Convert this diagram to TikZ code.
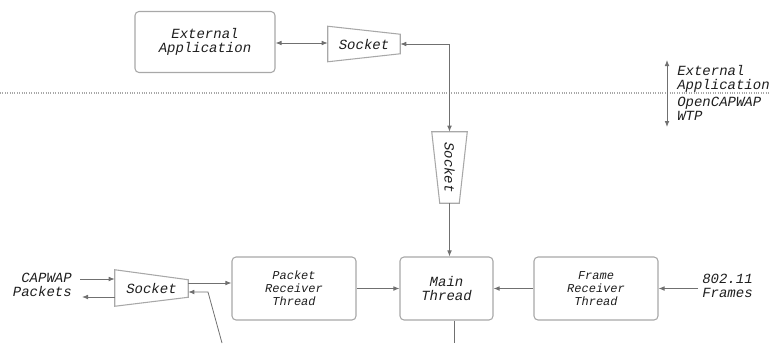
\documentclass[tikz,border=0pt]{standalone}
\usepackage{fontspec}
\setmonofont{Liberation Mono}
\usepackage{graphicx}
\usetikzlibrary{arrows.meta,calc}
\definecolor{boxgray}{HTML}{A8A8A8}
\definecolor{linegray}{HTML}{707070}
\definecolor{txtgray}{HTML}{1E1E1E}
\begin{document}
\begin{tikzpicture}[x=0.75pt,y=-0.75pt,
    thr/.style={draw=boxgray,line width=0.8pt,rounded corners=3pt,align=center,text=txtgray,
        font=\ttfamily\itshape\fontsize{9}{9.75}\selectfont},
    lbl/.style={text=txtgray,inner sep=0pt,font=\ttfamily\itshape\fontsize{10.5}{10.5}\selectfont},
    sock/.style={lbl,inner sep=0pt},
    conn/.style={draw=linegray,line width=0.6pt,-{Latex[length=4.5pt,width=3.5pt]}},
    biconn/.style={conn,{Latex[length=4.5pt,width=3.5pt]}-{Latex[length=4.5pt,width=3.5pt]}}]
    \tikzstyle{outline}=[draw=boxgray,line width=0.8pt]
    \useasboundingbox (0,0) rectangle (770,343);

    \node[thr,lbl,inner sep=0pt,draw=boxgray,minimum width=105pt,minimum height=45.75pt,align=center] (extapp) at (205,42) {External\\Application};
    \node[sock,minimum width=54pt,minimum height=26.25pt] (sockA) at (364,44) {Socket};
    \node[sock,minimum width=26.25pt,minimum height=53.25pt] (sockV) at (449.5,167.5) {\rotatebox{-90}{Socket}};
    \node[sock,minimum width=54.75pt,minimum height=27pt] (sockB) at (151.5,288) {Socket};

    \node[thr,minimum width=93pt,minimum height=47.25pt] (pkt) at (294,288.5) {Packet\\Receiver\\Thread};
    \node[thr,font=\ttfamily\itshape\fontsize{10.5}{10.5}\selectfont,minimum width=69.75pt,minimum height=47.25pt] (mainthr) at (446.5,288.5) {Main\\Thread};
    \node[thr,minimum width=93pt,minimum height=47.25pt] (frame) at (596,288.5) {Frame\\Receiver\\Thread};

    \node[lbl,align=left,anchor=west] (frames) at (702,286) {802.11\\Frames};
    \node[lbl,align=right,anchor=east] (capwap) at (72,285) {CAPWAP\\Packets};
    \node[lbl,align=left,anchor=west] (upper) at (677,79) {External\\Application};
    \node[lbl,align=left,anchor=west] (lower) at (677,109) {OpenCAPWAP\\WTP};

    \draw[outline] (sockA.north west) -- ([yshift=-6pt]sockA.north east) -- ([yshift=6pt]sockA.south east) -- (sockA.south west) -- cycle;
    \draw[outline] (sockV.north west) -- (sockV.north east) -- ([xshift=-6pt]sockV.south east) -- ([xshift=6pt]sockV.south west) -- cycle;
    \draw[outline] (sockB.north west) -- ([yshift=-7.5pt]sockB.north east) -- ([yshift=6.75pt]sockB.south east) -- (sockB.south west) -- cycle;

    \draw[densely dotted,boxgray,line width=0.8pt] (0,93) -- (770,93);
    \coordinate (splitA) at (667,60);
    \coordinate (splitB) at (667,127);
    \draw[biconn] (splitA) -- (splitB);

    \coordinate (capin) at (80,279);
    \coordinate (capout) at (82,297);
    \coordinate (retfoot) at (222,343);
    \coordinate (retbend) at (208,292);
    \coordinate (mainfoot) at (454,343);

    \draw[biconn] (extapp.east |- 0,43) -- (sockA.west |- 0,43);
    \draw[biconn] (sockA.east) -| (sockV.north);
    \draw[conn] (sockV.south) -- (mainthr.north -| sockV.south);
    \draw[conn] (capin) -- (capin -| sockB.west);
    \draw[conn] (capout -| sockB.west) -- (capout);
    \draw[conn] (sockB.east |- 0,283) -- (pkt.west |- 0,283);
    \draw[conn] (retfoot) -- (retbend) -- (sockB.east |- retbend);
    \draw[conn] (pkt.east) -- (mainthr.west);
    \draw[conn] (frame.west) -- (mainthr.east);
    \draw[conn] (frames.west |- frame.east) ++(-4,0) -- (frame.east);
    \draw[draw=linegray,line width=0.6pt] (mainthr.south -| mainfoot) -- (mainfoot);
\end{tikzpicture}
\end{document}
